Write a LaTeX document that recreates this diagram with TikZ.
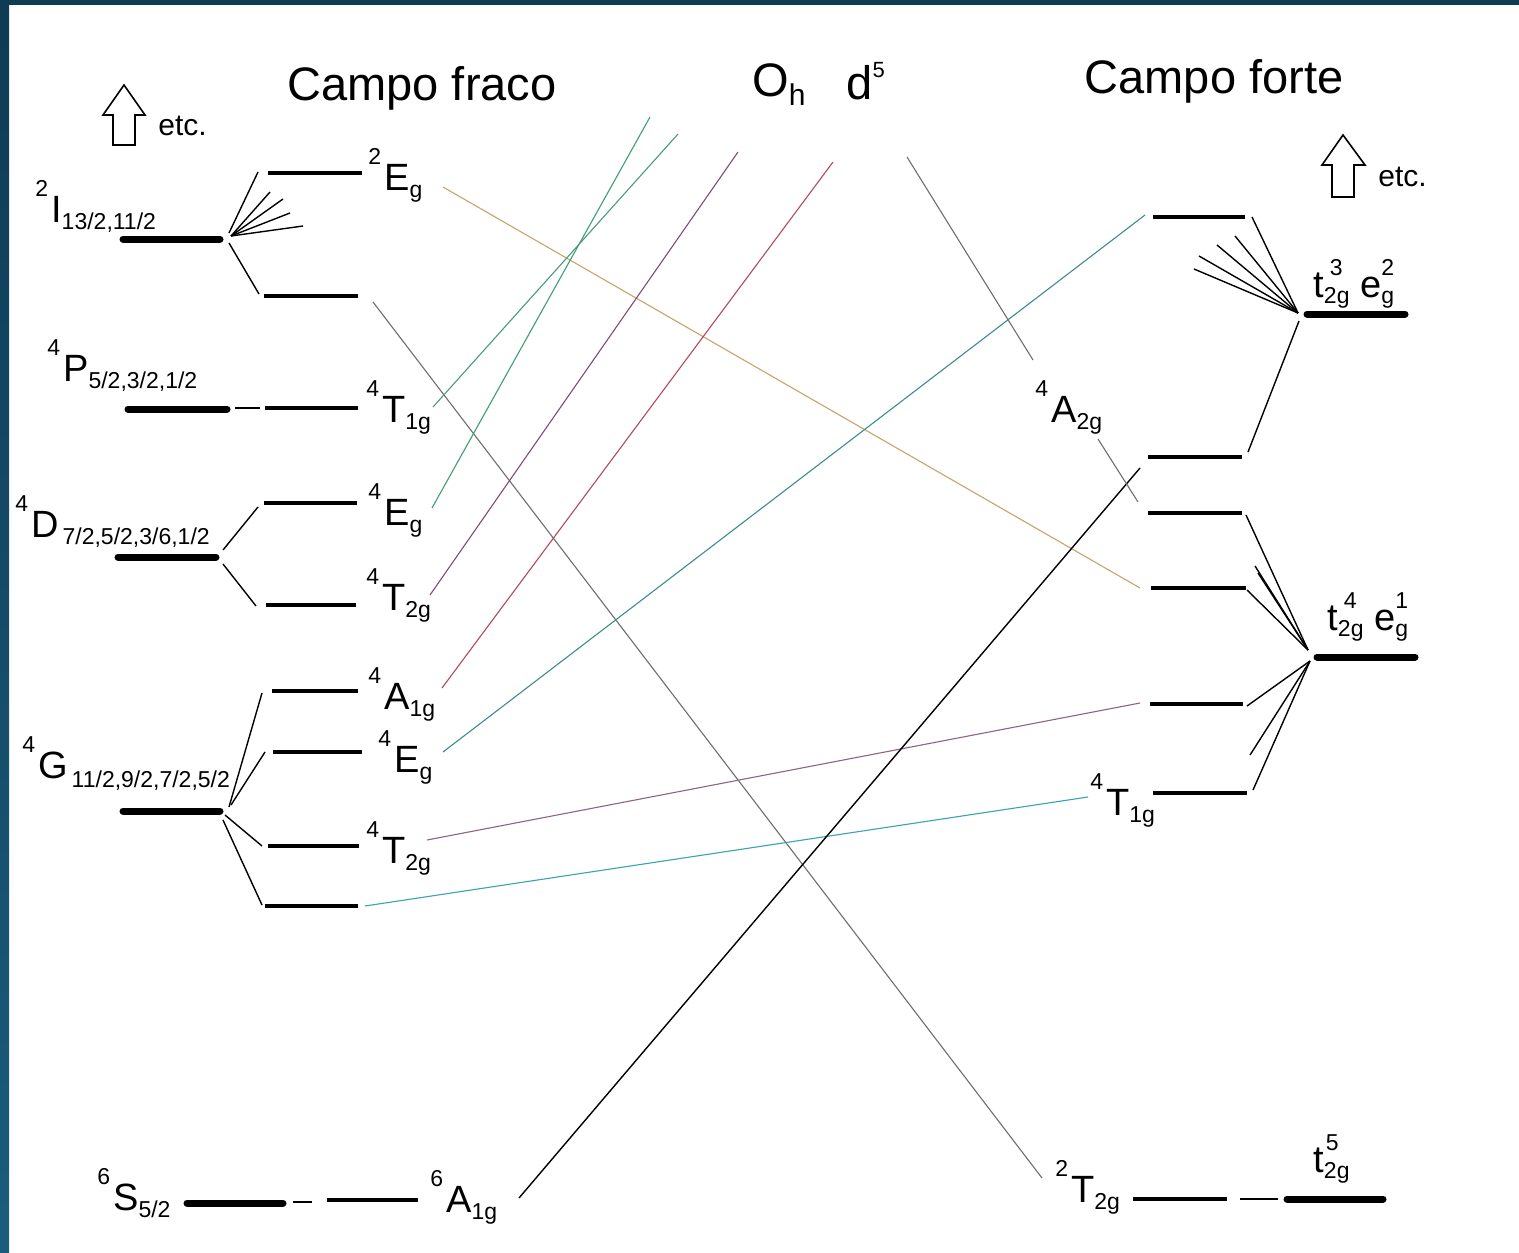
\documentclass[tikz,border=0pt]{standalone}
\usepackage{fontspec}
\setmainfont{Liberation Sans}
\definecolor{frameA}{HTML}{0F3B54}
\definecolor{frameB}{HTML}{1B5C7C}
\definecolor{ctan}{HTML}{C9A468}
\definecolor{cgreenA}{HTML}{3E9E74}
\definecolor{cgreenB}{HTML}{4A9A7E}
\definecolor{cplum}{HTML}{7E4E72}
\definecolor{cred}{HTML}{B04A5E}
\definecolor{cteal}{HTML}{3E8C8C}
\definecolor{cmauve}{HTML}{8C6488}
\definecolor{ccyan}{HTML}{38A4B4}
\definecolor{cgrey}{HTML}{6E6E6E}
% small indices for term symbols
\newcommand{\upidx}[1]{\raisebox{13pt}{\fontsize{11.5}{12}\selectfont #1}}
\newcommand{\loidx}[1]{\raisebox{-3.8pt}{\fontsize{11.5}{12}\selectfont #1}}
\newcommand{\term}[3]{\upidx{#1}\hspace{1.5pt}#2\loidx{#3}}
% orbital configuration symbol with stacked indices
\newcommand{\orb}[4]{#1\makebox[0pt][l]{\hspace{#4}\raisebox{11pt}{\fontsize{11.5}{12}\selectfont #2}}\raisebox{-3pt}{\fontsize{11.5}{12}\selectfont #3}}
\begin{document}
\begin{tikzpicture}[x=0.5pt,y=-0.5pt,
  freeion/.style={line width=3.5pt, line cap=round},
  lvl/.style={line width=2pt},
  tick/.style={line width=0.8pt},
  fan/.style={line width=0.7pt},
  corr/.style={line width=0.55pt},
  lab/.style={anchor=base west, inner sep=0pt, font=\fontsize{19}{22}\selectfont},
  title/.style={anchor=base, inner sep=0pt, font=\fontsize{23.5}{26}\selectfont},
  etcnote/.style={anchor=base west, inner sep=0pt, font=\fontsize{15}{18}\selectfont},
  uparrow/.style={line width=0.8pt, fill=white}]

% frame
\fill[white] (0,0) rectangle (1519,1252);
\shade[top color=frameA, bottom color=frameB] (0,0) rectangle (9,1252);
\fill[frameA] (0,0) rectangle (1519,5);
\useasboundingbox (0,0) rectangle (1519,1252);

% headings
\node[title] (weak) at (422,101) {Campo fraco};
\node[title] (strong) at (1214,94) {Campo forte};
\node[anchor=base west, inner sep=0pt, font=\fontsize{23.5}{26}\selectfont] (grp) at (752,97)
  {O\raisebox{-4.5pt}{\fontsize{15}{16}\selectfont h}};
\node[anchor=base west, inner sep=0pt, font=\fontsize{23.5}{26}\selectfont] (conf) at (846,100)
  {d\raisebox{11pt}{\fontsize{11}{12}\selectfont 5}};

% "etc." arrows
\draw[uparrow] (113,145) -- (113,115) -- (103,115) -- (124,85) -- (145,115) -- (135,115) -- (135,145) -- cycle;
\node[etcnote] (etcL) at (158,135) {etc.};
\draw[uparrow] (1332,197) -- (1332,165) -- (1322,165) -- (1343,135) -- (1365,165) -- (1354,165) -- (1354,197) -- cycle;
\node[etcnote] (etcR) at (1378,186) {etc.};

% ---------- free-ion terms ----------
\coordinate (I-l) at (123,239);  \coordinate (I-r) at (220,239);
\coordinate (P-l) at (128,409);  \coordinate (P-r) at (227,409);
\coordinate (D-l) at (118,557);  \coordinate (D-r) at (216,557);
\coordinate (G-l) at (123,811);  \coordinate (G-r) at (220,811);
\coordinate (S-l) at (187,1203); \coordinate (S-r) at (283,1203);
\foreach \t in {I,P,D,G,S} \draw[freeion] (\t-l) -- (\t-r);

\node[lab] (tI) at (35,222) {\term{2}{I}{13/2,11/2}};
\node[lab] (tP) at (47,381) {\term{4}{P}{5/2,3/2,1/2}};
\node[lab] (tD) at (15,537) {\term{4}{D}{\hspace{2pt}7/2,5/2,3/6,1/2}};
\node[lab] (tG) at (22,778) {\term{4}{G}{\hspace{2pt}\raisebox{-1pt}{11/2,9/2,7/2,5/2}}};
\node[lab] (tS) at (97,1210) {\term{6}{S}{5/2}};

% ---------- weak-field octahedral levels ----------
\coordinate (Eb-l) at (268,173);  \coordinate (Eb-r) at (362,173);
\coordinate (Ib-l) at (264,296);  \coordinate (Ib-r) at (358,296);
\coordinate (Pb-l) at (265,408);  \coordinate (Pb-r) at (358,408);
\coordinate (Da-l) at (264,503);  \coordinate (Da-r) at (357,503);
\coordinate (Db-l) at (266,605);  \coordinate (Db-r) at (356,605);
\coordinate (Ga-l) at (272,691);  \coordinate (Ga-r) at (358,691);
\coordinate (Gb-l) at (273,752);  \coordinate (Gb-r) at (362,752);
\coordinate (Gc-l) at (268,846);  \coordinate (Gc-r) at (359,846);
\coordinate (Gd-l) at (265,906);  \coordinate (Gd-r) at (358,906);
\coordinate (Sb-l) at (327,1200); \coordinate (Sb-r) at (418,1200);
\foreach \t in {Eb,Ib,Pb,Da,Db,Ga,Gb,Gc,Gd,Sb} \draw[lvl] (\t-l) -- (\t-r);

% short links P and S
\coordinate (Pt-a) at (235,408); \coordinate (Pt-b) at (260,408);
\coordinate (St-a) at (293,1202); \coordinate (St-b) at (312,1202);
\draw[tick] (Pt-a) -- (Pt-b);
\draw[tick] (St-a) -- (St-b);

\node[lab] (lEb) at (368,190) {\term{2}{E}{g}};
\node[lab] (lPb) at (366,422) {\term{4}{T}{1g}};
\node[lab] (lDa) at (368,525) {\term{4}{E}{g}};
\node[lab] (lDb) at (366,610) {\term{4}{T}{2g}};
\node[lab] (lGa) at (368,709) {\term{4}{A}{1g}};
\node[lab] (lGb) at (378,772) {\term{4}{E}{g}};
\node[lab] (lGc) at (366,863) {\term{4}{T}{2g}};
\node[lab] (lSb) at (430,1212) {\term{6}{A}{1g}};

% splitting fans, weak field
\coordinate (fI) at (231,236);
\coordinate (fI1) at (270,192); \coordinate (fI2) at (283,199);
\coordinate (fI3) at (290,213); \coordinate (fI4) at (303,226);
\coordinate (fIa) at (258,172); \coordinate (fIb) at (259,294);
\draw[fan] (229,233) -- (fIa);
\foreach \e in {fI1,fI2,fI3,fI4} \draw[fan] (fI) -- (\e);
\draw[fan] (229,243) -- (fIb);
\coordinate (fD1) at (223,550); \coordinate (fD1e) at (258,507);
\coordinate (fD2) at (223,564); \coordinate (fD2e) at (256,606);
\draw[fan] (fD1) -- (fD1e);
\draw[fan] (fD2) -- (fD2e);
\coordinate (fG1) at (229,807); \coordinate (fG1e) at (262,693);
\coordinate (fG2) at (231,805); \coordinate (fG2e) at (265,752);
\coordinate (fG3) at (225,815); \coordinate (fG3e) at (262,846);
\coordinate (fG4) at (223,820); \coordinate (fG4e) at (262,905);
\foreach \i in {1,2,3,4} \draw[fan] (fG\i) -- (fG\i e);

% ---------- strong-field levels ----------
\coordinate (R0-l) at (1153,217); \coordinate (R0-r) at (1245,217);
\coordinate (R1-l) at (1148,457); \coordinate (R1-r) at (1242,457);
\coordinate (R2-l) at (1148,513); \coordinate (R2-r) at (1242,513);
\coordinate (R3-l) at (1151,588); \coordinate (R3-r) at (1246,588);
\coordinate (R4-l) at (1150,704); \coordinate (R4-r) at (1243,704);
\coordinate (R5-l) at (1153,793); \coordinate (R5-r) at (1247,793);
\coordinate (R6-l) at (1133,1199); \coordinate (R6-r) at (1227,1199);
\foreach \t in {R0,R1,R2,R3,R4,R5,R6} \draw[lvl] (\t-l) -- (\t-r);

\coordinate (C1-l) at (1307,314); \coordinate (C1-r) at (1405,314);
\coordinate (C2-l) at (1317,657); \coordinate (C2-r) at (1415,657);
\coordinate (C3-l) at (1287,1199); \coordinate (C3-r) at (1383,1199);
\foreach \t in {C1,C2,C3} \draw[freeion] (\t-l) -- (\t-r);
\coordinate (Ct-a) at (1240,1199); \coordinate (Ct-b) at (1278,1199);
\draw[tick] (Ct-a) -- (Ct-b);

\node[lab] (lC1) at (1313,297) {\orb{t}{3}{2g}{3pt} \orb{e}{2}{g}{0pt}};
\node[lab] (lC2) at (1327,630) {\orb{t}{4}{2g}{3pt} \orb{e}{1}{g}{0pt}};
\node[lab] (lC3) at (1313,1172) {\orb{t}{5}{2g}{1pt}};
\node[lab] (lR1) at (1035,422) {\term{4}{A}{2g}};
\node[lab] (lR5) at (1090,815) {\term{4}{T}{1g}};
\node[lab] (lR6) at (1055,1202) {\term{2}{T}{2g}};

% splitting fans, strong field
\coordinate (aC1) at (1298,313);
\coordinate (aC1a) at (1252,217); \coordinate (aC1b) at (1235,236);
\coordinate (aC1c) at (1217,245); \coordinate (aC1d) at (1199,256);
\coordinate (aC1e) at (1194,269);
\foreach \e in {aC1a,aC1b,aC1c,aC1d,aC1e} \draw[fan] (aC1) -- (\e);
\coordinate (aC1f) at (1299,321); \coordinate (aC1g) at (1248,452);
\draw[fan] (aC1f) -- (aC1g);
\coordinate (aC2) at (1308,650);
\coordinate (aC2a) at (1246,515); \coordinate (aC2b) at (1255,566);
\coordinate (aC2c) at (1258,573); \coordinate (aC2d) at (1247,590);
\foreach \e in {aC2a,aC2b,aC2c,aC2d} \draw[fan] (aC2) -- (\e);
\coordinate (aC2x) at (1310,661);
\coordinate (aC2e) at (1247,706); \coordinate (aC2f) at (1250,755);
\coordinate (aC2g) at (1253,790);
\foreach \e in {aC2e,aC2f,aC2g} \draw[fan] (aC2x) -- (\e);

% ---------- correlation lines ----------
\coordinate (k1a) at (443,187);  \coordinate (k1b) at (1140,588);
\coordinate (k2a) at (373,302);  \coordinate (k2b) at (1042,1178);
\coordinate (k3a) at (433,407);  \coordinate (k3b) at (678,134);
\coordinate (k4a) at (432,508);  \coordinate (k4b) at (650,117);
\coordinate (k5a) at (430,595);  \coordinate (k5b) at (738,152);
\coordinate (k6a) at (442,688);  \coordinate (k6b) at (833,162);
\coordinate (k7a) at (443,752);  \coordinate (k7b) at (1145,215);
\coordinate (k8a) at (427,840);  \coordinate (k8b) at (1140,703);
\coordinate (k9a) at (365,906);  \coordinate (k9b) at (1088,797);
\coordinate (k10a) at (519,1198); \coordinate (k10b) at (1140,468);
\coordinate (k11a) at (907,157);  \coordinate (k11b) at (1033,360);
\coordinate (k11c) at (1098,439); \coordinate (k11d) at (1138,502);
\draw[corr, ctan] (k1a) -- (k1b);
\draw[corr, cgrey] (k2a) -- (k2b);
\draw[corr, cgreenB] (k3a) -- (k3b);
\draw[corr, cgreenA] (k4a) -- (k4b);
\draw[corr, cplum] (k5a) -- (k5b);
\draw[corr, cred] (k6a) -- (k6b);
\draw[corr, cteal] (k7a) -- (k7b);
\draw[corr, cmauve] (k8a) -- (k8b);
\draw[corr, ccyan] (k9a) -- (k9b);
\draw[corr, black, line width=0.7pt] (k10a) -- (k10b);
\draw[corr, cgrey] (k11a) -- (k11b);
\draw[corr, cgrey] (k11c) -- (k11d);
\end{tikzpicture}
\end{document}
